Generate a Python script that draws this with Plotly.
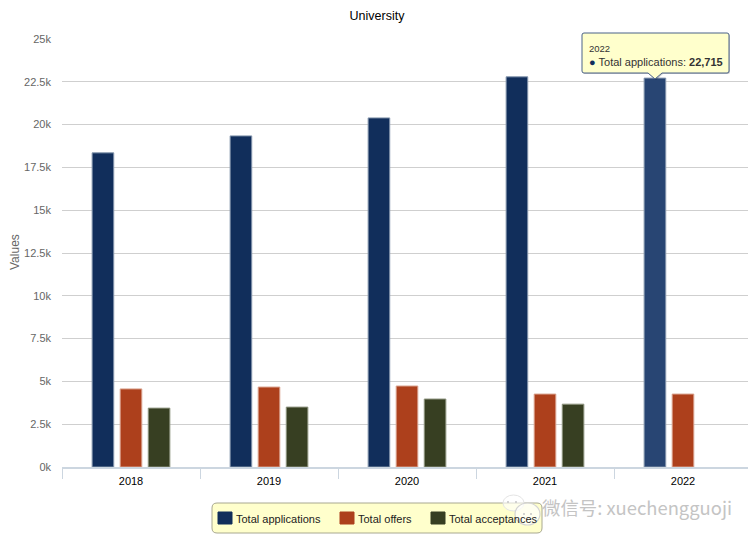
import plotly.graph_objects as go

years = ['2018', '2019', '2020', '2021', '2022']
applications = [18350, 19340, 20390, 22790, 22715]
offers = [4560, 4670, 4730, 4260, 4260]
acceptances = [3440, 3500, 3970, 3670, None]

tick_vals = [0, 2500, 5000, 7500, 10000, 12500, 15000, 17500, 20000, 22500, 25000]
tick_text = ['0k', '2.5k', '5k', '7.5k', '10k', '12.5k', '15k', '17.5k', '20k', '22.5k', '25k']

series_names = ['Total applications', 'Total offers', 'Total acceptances']
series_colors = ['#112e5b', '#ad401c', '#373f22']
edge_colors = ['#8496ad', '#d9a08c', '#8f9580']

font = 'Liberation Sans'


# screenshot pixels -> paper coords (page has an 8px body margin)
def px(x):
    return (x - 62) / 690


def py(y):
    return (467 - y) / 428


def rounded_box(left, top, right, bottom, r, tip=None):
    # closed path in paper coords, tip is an optional (x, y) point hanging off the bottom edge
    pts = f'M {px(left + r)} {py(bottom)} '
    if tip:
        pts = (f'M {px(tip[0] - 7)} {py(bottom)} L {px(tip[0])} {py(tip[1])} '
               f'L {px(tip[0] + 7)} {py(bottom)} ')
    return (pts +
            f'L {px(right - r)} {py(bottom)} Q {px(right)} {py(bottom)} {px(right)} {py(bottom - r)} '
            f'L {px(right)} {py(top + r)} Q {px(right)} {py(top)} {px(right - r)} {py(top)} '
            f'L {px(left + r)} {py(top)} Q {px(left)} {py(top)} {px(left)} {py(top + r)} '
            f'L {px(left)} {py(bottom - r)} Q {px(left)} {py(bottom)} {px(left + r)} {py(bottom)} Z')


fig = go.Figure()
fig.add_bar(name=series_names[0], x=years, y=applications,
            marker=dict(color=[series_colors[0]] * 4 + ['#284573'], line=dict(color=edge_colors[0], width=1)))
fig.add_bar(name=series_names[1], x=years, y=offers,
            marker=dict(color=series_colors[1], line=dict(color=edge_colors[1], width=1)))
fig.add_bar(name=series_names[2], x=years, y=acceptances,
            marker=dict(color=series_colors[2], line=dict(color=edge_colors[2], width=1)))

fig.update_layout(
    width=748, height=536,
    margin=dict(l=54, r=4, t=31, b=77),
    paper_bgcolor='white', plot_bgcolor='white',
    font=dict(family=font, size=11, color='#666666'),
    title=dict(text='University', x=369 / 748, xanchor='center', y=0.985, yanchor='middle',
               font=dict(size=12.5, color='black', family=font)),
    barmode='group', bargap=0.39, bargroupgap=0.23,
    showlegend=False,
)

fig.update_xaxes(type='category', tickson='boundaries', ticks='outside', ticklen=10,
                 tickcolor='#ccd6e0', linecolor='#ccd6e0', linewidth=1.5, showline=True,
                 showgrid=False, tickangle=0, automargin=False, ticklabelstandoff=3,
                 tickfont=dict(size=11, color='black'))
fig.update_yaxes(range=[0, 25000], tickvals=tick_vals, ticktext=tick_text, ticks='',
                 gridcolor='#cfcfcf', gridwidth=1.3, zeroline=False, automargin=False,
                 ticklabelstandoff=10)

fig.add_annotation(x=px(15), y=py(252), xref='paper', yref='paper', textangle=-90,
                   xanchor='center', yanchor='middle', showarrow=False, text='Values',
                   font=dict(size=12, color='#666666', family=font))

# legend box, drawn by hand for the rounded corners and big swatches
fig.add_shape(type='path', xref='paper', yref='paper', fillcolor='#ffffcc',
              line=dict(color='#a8a890', width=1), path=rounded_box(212, 503, 542, 533, 5))
swatch_left = [218, 340, 431]
for name, color, left in zip(series_names, series_colors, swatch_left):
    fig.add_shape(type='rect', xref='paper', yref='paper', fillcolor=color,
                  line=dict(color=color, width=1),
                  x0=px(left), x1=px(left + 14), y0=py(524), y1=py(512))
    fig.add_annotation(x=px(left + 16), y=py(519), xref='paper', yref='paper',
                       xanchor='left', yanchor='middle', showarrow=False, text=name,
                       font=dict(size=11, color='#222222', family=font))

# tooltip on the hovered 2022 bar
fig.add_shape(type='path', xref='paper', yref='paper', layer='above',
              path=rounded_box(583, 34, 730, 74, 2, tip=(656, 80)),
              fillcolor='rgba(0,0,0,0.2)', line=dict(width=0))
fig.add_shape(type='path', xref='paper', yref='paper', layer='above',
              path=rounded_box(582, 33, 729, 73, 2, tip=(655, 79)),
              fillcolor='#ffffcc', line=dict(color='#4a6288', width=1))
fig.add_annotation(x=px(587), y=py(55), xref='paper', yref='paper',
                   xanchor='left', yanchor='middle', showarrow=False, align='left',
                   text='<span style="font-size:9.5px">2022</span><br>'
                        '<span style="color:#112e5b">●</span> Total applications: <b>22,715</b>',
                   font=dict(size=11, color='#333333', family=font))

# wechat watermark, two bubbles with eyes
fig.add_shape(type='circle', xref='paper', yref='paper', layer='above',
              x0=px(503), x1=px(524), y0=py(511), y1=py(495),
              fillcolor='rgba(255,255,255,0.6)', line=dict(color='#e4e4e4', width=1))
fig.add_shape(type='circle', xref='paper', yref='paper', layer='above',
              x0=px(515), x1=px(540), y0=py(525), y1=py(503),
              fillcolor='rgba(255,255,255,0.7)', line=dict(color='#d4d4d4', width=1.2))
for eye_x, eye_y in [(508, 502), (516, 502), (524, 514), (531, 514)]:
    fig.add_shape(type='circle', xref='paper', yref='paper', layer='above',
                  x0=px(eye_x - 1), x1=px(eye_x + 1), y0=py(eye_y + 1), y1=py(eye_y - 1),
                  fillcolor='#c4c4c4', line=dict(width=0))
fig.add_annotation(x=px(540), y=py(507), xref='paper', yref='paper',
                   xanchor='left', yanchor='middle', showarrow=False,
                   text='微信号: xuechengguoji',
                   font=dict(size=18.4, color='#c4c4c4', family='Noto Sans CJK SC'))

fig.write_html("out.html")
